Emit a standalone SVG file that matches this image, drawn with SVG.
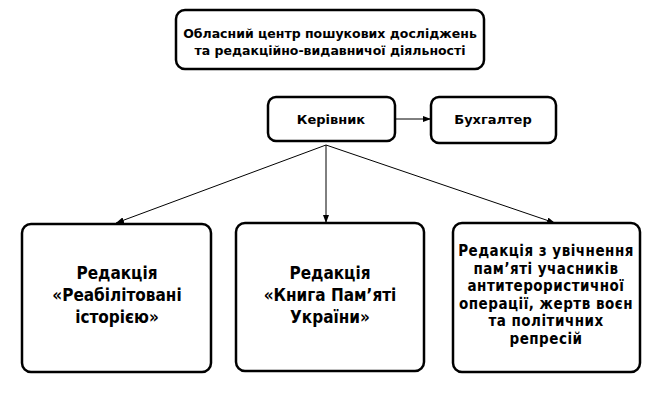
<svg xmlns="http://www.w3.org/2000/svg" width="660" height="400" viewBox="0 0 660 400">
<defs>
<marker id="ah" markerWidth="8" markerHeight="6" refX="8" refY="3" orient="auto" markerUnits="userSpaceOnUse">
<path d="M0,0 L8,3 L0,6 Z" fill="#000"/>
</marker>
</defs>
<style>
.box{fill:#fff;stroke:#000;stroke-width:2.5}
.t{font-family:"DejaVu Sans",Verdana,sans-serif;font-weight:bold;fill:#000;text-anchor:middle}
.s{font-size:13px}
.h{font-size:12.5px}
.b{font-size:17px;font-stretch:condensed;font-family:"DejaVu Sans Condensed","DejaVu Sans",sans-serif}
.c{font-size:15px;letter-spacing:0.5px;font-stretch:condensed;font-family:"DejaVu Sans Condensed","DejaVu Sans",sans-serif}
.con{stroke:#000;stroke-width:1;fill:none;marker-end:url(#ah)}
</style>
<rect width="660" height="400" fill="#fff"/>
<g id="connectors">
<line class="con" x1="395" y1="119" x2="431" y2="119"/>
<line class="con" x1="326" y1="145" x2="116" y2="223"/>
<line class="con" x1="326" y1="145" x2="326" y2="223"/>
<line class="con" x1="326" y1="145" x2="555" y2="223"/>
</g>
<g id="center">
<rect class="box" x="176" y="10" width="308" height="59" rx="9"/>
<text class="t h" x="330" y="38">Обласний центр пошукових досліджень</text>
<text class="t h" x="330" y="55">та редакційно-видавничої діяльності</text>
</g>
<g id="head">
<rect class="box" x="268" y="97" width="127" height="44" rx="8"/>
<text class="t s" x="331" y="124">Керівник</text>
</g>
<g id="accountant">
<rect class="box" x="431" y="97" width="125" height="46" rx="8"/>
<text class="t s" x="493" y="124">Бухгалтер</text>
</g>
<g id="ed1">
<rect class="box" x="22" y="224" width="189" height="148" rx="9"/>
<text class="t b" x="117" y="279">Редакція</text>
<text class="t b" x="117" y="301">«Реабілітовані</text>
<text class="t b" x="117" y="323">історією»</text>
</g>
<g id="ed2">
<rect class="box" x="236" y="223" width="188" height="148" rx="9"/>
<text class="t b" x="330" y="279">Редакція</text>
<text class="t b" x="330" y="301">«Книга Пам’яті</text>
<text class="t b" x="330" y="323">України»</text>
</g>
<g id="ed3">
<rect class="box" x="453" y="223" width="187" height="149" rx="9"/>
<text class="t c" x="546" y="256">Редакція з увічнення</text>
<text class="t c" x="546" y="273.5">пам’яті учасників</text>
<text class="t c" x="546" y="291">антитерористичної</text>
<text class="t c" x="546" y="308.5">операції, жертв воєн</text>
<text class="t c" x="546" y="326">та політичних</text>
<text class="t c" x="546" y="343.5">репресій</text>
</g>
</svg>
